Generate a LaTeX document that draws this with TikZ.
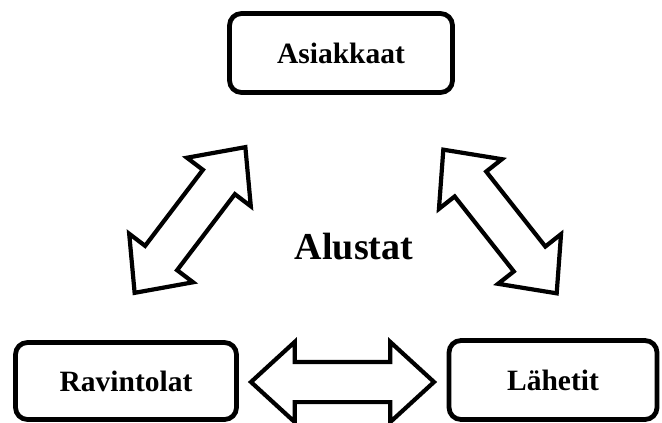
\documentclass[tikz,border=0pt]{standalone}
\usepackage{fontspec}
\setmainfont{Liberation Serif}
\usetikzlibrary{shapes.arrows}

\begin{document}
\begin{tikzpicture}[x=1pt, y=-1pt,
    box/.style={draw, line width=4.8pt, rounded corners=12pt, inner sep=0pt, font=\bfseries\fontsize{29.5}{31}\selectfont},
    dblarrow/.style={draw, double arrow, line width=4.2pt, double arrow head extend=20pt, double arrow tip angle=85, inner xsep=0pt, inner ysep=18pt, minimum height=183pt}]
    \useasboundingbox (0,0) rectangle (662,423);
    \node[box, minimum width=223pt, minimum height=79pt] (asiakkaat) at (341,53) {Asiakkaat};
    \node[box, minimum width=221pt, minimum height=77pt] (ravintolat) at (126,381) {Ravintolat};
    \node[box, minimum width=208pt, minimum height=79pt] (lahetit) at (553,380) {Lähetit};
    \node[font=\bfseries\fontsize{38}{40}\selectfont, anchor=base] (alustat) at (354,259) {Alustat};
    % arrow ends
    \coordinate (ra) at (133,295);
    \coordinate (ar) at (247,145);
    \coordinate (al) at (442,148);
    \coordinate (la) at (558,295);
    \coordinate (rl) at (247,382);
    \coordinate (lr) at (438,382);
    \path (ra) -- (ar) node[dblarrow, midway, sloped] (arrowra) {};
    \path (al) -- (la) node[dblarrow, midway, sloped] (arrowal) {};
    \path (rl) -- (lr) node[dblarrow, midway, sloped] (arrowrl) {};
\end{tikzpicture}
\end{document}
